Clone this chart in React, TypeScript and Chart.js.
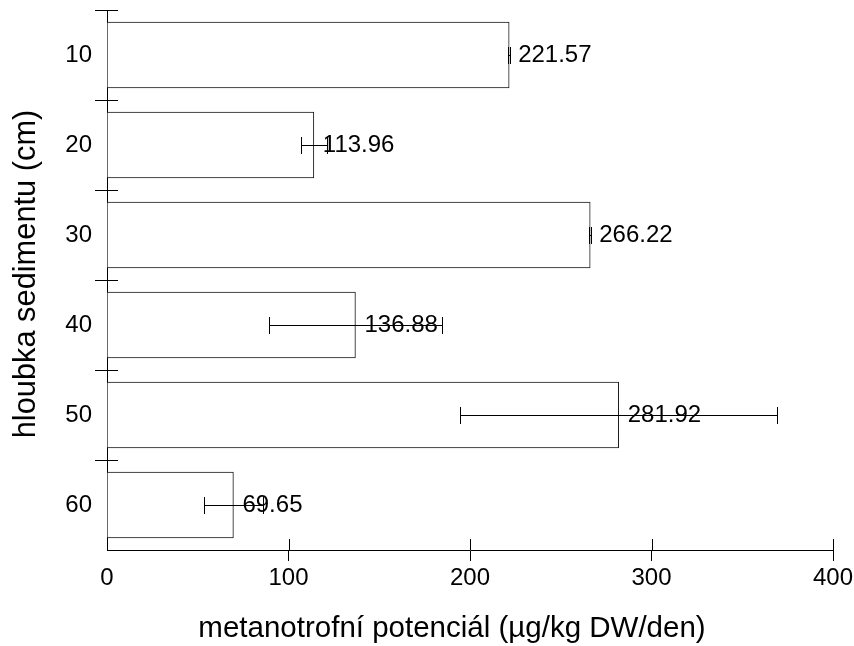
import React, { useEffect, useRef } from 'react';
import { Chart, registerables } from 'chart.js';

Chart.register(...registerables);

const categories = ['10', '20', '30', '40', '50', '60'];
const values = [221.57, 113.96, 266.22, 136.88, 281.92, 69.65];
const errors = [0.5, 7, 0.5, 47.5, 87.2, 16.4];
const xTicks = [0, 100, 200, 300, 400];
const xTitle = 'metanotrofní potenciál (µg/kg DW/den)';
const yTitle = 'hloubka sedimentu (cm)';

const FONT = '"Liberation Sans", Arial, Helvetica, sans-serif';

const al = (p: number) => Math.round(p) + 0.5;

const decorPlugin = {
  id: 'decor',
  afterDatasetsDraw(chart: any) {
    const ctx = chart.ctx;
    const xs = chart.scales.x;
    const meta = chart.getDatasetMeta(0);
    ctx.save();
    ctx.strokeStyle = '#000';
    ctx.lineWidth = 1;
    meta.data.forEach((bar: any, i: number) => {
      const y = al(bar.y);
      const x1 = al(xs.getPixelForValue(values[i] - errors[i]));
      const x2 = al(xs.getPixelForValue(values[i] + errors[i]));
      ctx.beginPath();
      ctx.moveTo(x1, y);
      ctx.lineTo(x2, y);
      ctx.moveTo(x1, y - 8.5);
      ctx.lineTo(x1, y + 8.5);
      ctx.moveTo(x2, y - 8.5);
      ctx.lineTo(x2, y + 8.5);
      ctx.stroke();
    });
    ctx.fillStyle = '#000';
    ctx.font = `24px ${FONT}`;
    ctx.textAlign = 'left';
    ctx.textBaseline = 'middle';
    meta.data.forEach((bar: any, i: number) => {
      ctx.fillText(values[i].toFixed(2), bar.x + 9, bar.y);
    });
    ctx.restore();
  },
  afterDraw(chart: any) {
    const ctx = chart.ctx;
    const xs = chart.scales.x;
    const ys = chart.scales.y;
    const area = chart.chartArea;
    ctx.save();
    ctx.strokeStyle = '#000';
    ctx.lineWidth = 1;
    ctx.beginPath();
    xs.ticks.forEach((t: any) => {
      if (t.value <= 0) return;
      const px = al(xs.getPixelForValue(t.value));
      ctx.moveTo(px, area.bottom);
      ctx.lineTo(px, area.bottom - 11);
    });
    const band = ys.getPixelForValue(1) - ys.getPixelForValue(0);
    categories.forEach((_, i) => {
      const py = al(ys.getPixelForValue(i) - band / 2);
      ctx.moveTo(area.left, py);
      ctx.lineTo(area.left + 11, py);
    });
    ctx.stroke();

    ctx.fillStyle = '#000';
    ctx.font = `29.5px ${FONT}`;
    ctx.textAlign = 'center';
    ctx.textBaseline = 'alphabetic';
    ctx.fillText(xTitle, area.left + 345, chart.height - 9);

    ctx.font = `30.8px ${FONT}`;
    ctx.translate(35, (area.top + area.bottom) / 2 - 6);
    ctx.rotate(-Math.PI / 2);
    ctx.fillText(yTitle, 0, 0);
    ctx.restore();
  },
};

export default function App() {
  const ref = useRef<HTMLCanvasElement | null>(null);
  useEffect(() => {
    if (!ref.current) return;
    const chart = new Chart(ref.current, {
      type: 'bar',
      data: {
        labels: categories,
        datasets: [
          {
            data: values,
            backgroundColor: '#ffffff',
            borderColor: '#1a1a1a',
            borderWidth: 1,
            barThickness: 66,
            borderSkipped: 'start',
          },
        ],
      },
      options: {
        indexAxis: 'y',
        responsive: false,
        animation: false,
        events: [],
        layout: { padding: { top: 10, right: 21, left: 0, bottom: 0 } },
        plugins: {
          legend: { display: false },
          tooltip: { enabled: false },
          title: { display: false },
        },
        scales: {
          x: {
            type: 'linear',
            min: 0,
            max: 400,
            position: 'bottom',
            afterFit: (s: any) => {
              s.height = 96;
              s.paddingLeft = 0;
              s.paddingRight = 0;
            },
            afterBuildTicks: (s: any) => {
              s.ticks = xTicks.map((v) => ({ value: v }));
            },
            ticks: {
              color: '#000',
              font: { family: FONT, size: 24 },
              padding: 3,
              maxRotation: 0,
              autoSkip: false,
            },
            grid: {
              drawOnChartArea: false,
              drawTicks: true,
              tickLength: 11,
              lineWidth: 1,
              color: (c: any) => (c.index === 0 ? 'rgba(0,0,0,0)' : '#000'),
            },
            border: { display: true, color: '#000', width: 1 },
          },
          y: {
            type: 'category',
            offset: true,
            position: 'left',
            afterFit: (s: any) => {
              s.width = 107;
              s.paddingTop = 0;
              s.paddingBottom = 0;
            },
            ticks: {
              color: '#000',
              font: { family: FONT, size: 24 },
              padding: 3,
              autoSkip: false,
            },
            grid: {
              offset: true,
              drawOnChartArea: false,
              drawTicks: true,
              tickLength: 12,
              lineWidth: 1,
              color: (c: any) => (c.type === 'tick' ? '#000' : 'rgba(0,0,0,0)'),
            },
            border: { display: true, color: '#000', width: 1 },
          },
        },
      },
      plugins: [decorPlugin],
    } as any);
    return () => chart.destroy();
  }, []);
  return (
    <div style={{ position: 'absolute', left: 0, top: 0, width: 854, height: 646, background: '#fff' }}>
      <canvas ref={ref} width={854} height={646} />
    </div>
  );
}
